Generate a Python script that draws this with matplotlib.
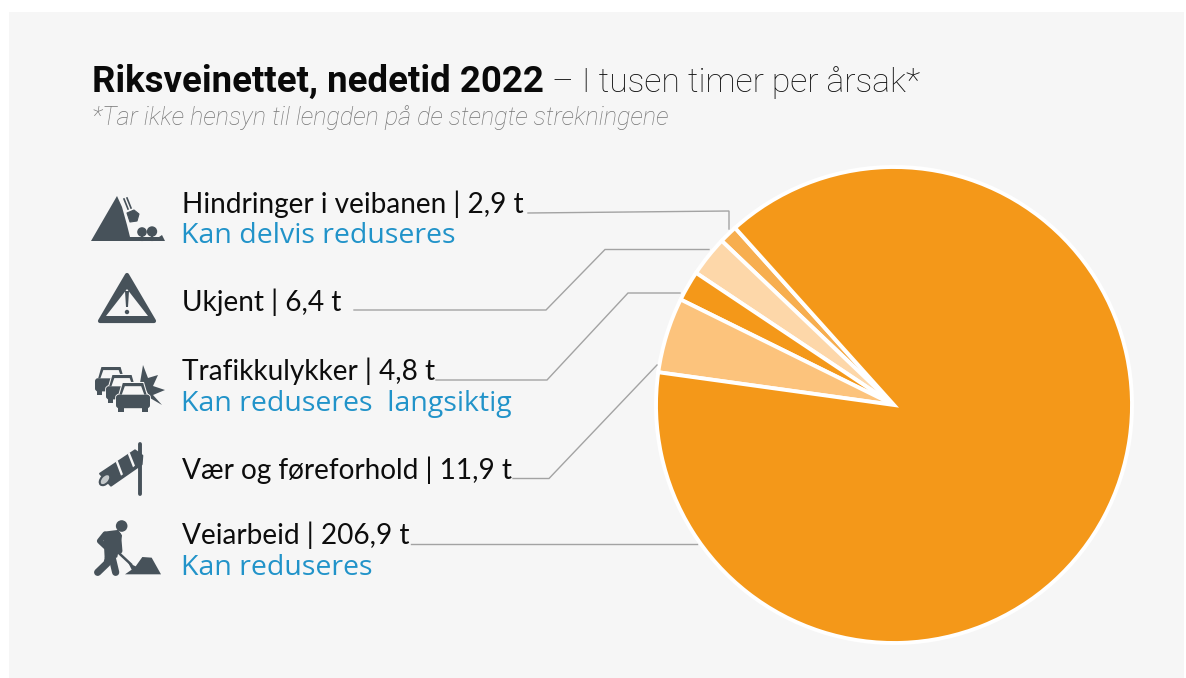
import matplotlib
matplotlib.use("Agg")
import matplotlib.pyplot as plt
from matplotlib.patches import Polygon, Circle, Rectangle, FancyBboxPatch, Ellipse

W, H = 1186, 678
categories = ["Hindringer i veibanen", "Ukjent", "Trafikkulykker", "Vær og føreforhold", "Veiarbeid"]
values = [2.9, 6.4, 4.8, 11.9, 206.9]
value_labels = ["2,9", "6,4", "4,8", "11,9", "206,9"]
notes = ["Kan delvis reduseres", "", "Kan reduseres  langsiktig", "", "Kan reduseres"]
colors = ["#f7ae4f", "#fdd7a9", "#f49819", "#fcc37c", "#f49819"]
title_bold = "Riksveinettet, nedetid 2022"
title_light = "– I tusen timer per årsak*"
subtitle = "*Tar ikke hensyn til lengden på de stengte strekningene"

BG = "#f6f6f6"
ICON = "#47525a"
BLUE = "#2193c9"

fig = plt.figure(figsize=(W / 100, H / 100), dpi=100, facecolor="white")
ov = fig.add_axes([0, 0, 1, 1], zorder=0)
ov.set_xlim(0, W)
ov.set_ylim(H, 0)
ov.axis("off")
ov.add_patch(Rectangle((9, 12), 1175, 667, fc=BG, ec="none"))

# pie
cx, cy, r = 894, 405, 238
pie_ax = fig.add_axes([(cx - r) / W, 1 - (cy + r) / H, 2 * r / W, 2 * r / H], zorder=1)
pie_ax.pie(values, colors=colors, startangle=131.9, counterclock=True, radius=1,
           wedgeprops=dict(edgecolor="white", linewidth=2.8), normalize=True)
pie_ax.set_xlim(-1.0, 1.0)
pie_ax.set_ylim(-1.0, 1.0)
for p in pie_ax.patches:
    p.set_clip_on(False)

# top layer
top = fig.add_axes([0, 0, 1, 1], zorder=2)
top.set_xlim(0, W)
top.set_ylim(H, 0)
top.axis("off")
top.patch.set_alpha(0)

# titles
top.text(92, 92, title_bold, fontfamily="Roboto", fontweight="bold", fontsize=26.4, color="#0a0a0a", va="baseline")
top.text(552, 92, title_light, fontfamily="Roboto", fontweight="light", fontsize=24.2, color="#111111", va="baseline")
top.text(92, 125, subtitle, fontfamily="Roboto", fontstyle="italic", fontweight="light", fontsize=18.1, color="#757575", va="baseline")

# labels
label_y = [213, 311, 380, 479, 544]
note_y = [243, None, 411, None, 575]
for c, v, n, ly, ny in zip(categories, value_labels, notes, label_y, note_y):
    top.text(182, ly, f"{c} | {v} t", fontfamily="Lato", fontsize=20.2, color="#0d0d0d", va="baseline")
    if n:
        top.text(181, ny, n, fontfamily="Open Sans", fontsize=20.5, color=BLUE, va="baseline")

# leader lines
leaders = [
    [(528, 213), (729, 211), (729, 229)],
    [(354, 310), (546, 310), (605, 249.5), (709, 249.5)],
    [(436, 380), (547, 380), (628, 293), (680, 293)],
    [(513, 478.5), (549, 478.5), (657, 365)],
    [(411, 544), (697, 544)],
]
for pts in leaders:
    top.plot([p[0] for p in pts], [p[1] for p in pts], color="#a3a3a3", lw=1.0, solid_joinstyle="miter")


def poly(pts, fc=ICON, **kw):
    top.add_patch(Polygon(pts, closed=True, fc=fc, ec=kw.pop("ec", "none"), **kw))


# icon 1: rock fall
poly([(117, 196), (91, 241), (165, 241), (162, 235), (159, 237), (130, 237), (127, 225), (122, 207)], joinstyle="round")
poly([(127, 213), (134, 210), (139, 214), (137, 221), (130, 222)], joinstyle="round", ec=ICON, lw=0.8)
top.plot([124, 128], [199, 209], color=ICON, lw=1.2)
top.plot([127, 131], [198, 208], color=ICON, lw=1.2)
top.add_patch(Circle((142, 232), 4.8, fc=ICON))
top.add_patch(Circle((152, 231.5), 5.2, fc=ICON))
top.plot([142, 142], [232, 240], color=ICON, lw=1.5)
top.plot([152, 152], [232, 240], color=ICON, lw=1.5)

# icon 2: warning triangle
poly([(127, 275), (100, 321), (154, 321)], ec=ICON, lw=3, joinstyle="round")
poly([(127, 289), (106, 316), (148, 316)], fc=BG)
poly([(125, 291), (129, 291), (128, 307), (126, 307)])
top.add_patch(Circle((127, 312), 2.2, fc=ICON))


# icon 3: cars
def car(x0, y0, w, h, z):
    body_top = y0 + 0.40 * h
    poly([(x0 + 0.10 * w, body_top), (x0 + 0.2 * w, y0), (x0 + 0.8 * w, y0), (x0 + 0.9 * w, body_top)],
         ec=BG, lw=1.5, zorder=z)
    top.add_patch(FancyBboxPatch((x0 + 1, body_top + 1), w - 2, 0.40 * h, boxstyle="round,pad=1,rounding_size=3",
                                 fc=ICON, ec=BG, lw=1.2, zorder=z))
    poly([(x0 + 0.10 * w, body_top), (x0 + 0.2 * w, y0), (x0 + 0.8 * w, y0), (x0 + 0.9 * w, body_top)],
         zorder=z)
    top.add_patch(FancyBboxPatch((x0 + 1, body_top + 1), w - 2, 0.40 * h, boxstyle="round,pad=1,rounding_size=3",
                                 fc=ICON, ec="none", zorder=z))
    poly([(x0 + 0.17 * w, body_top), (x0 + 0.26 * w, y0 + 0.11 * h), (x0 + 0.74 * w, y0 + 0.11 * h), (x0 + 0.83 * w, body_top)],
         fc=BG, zorder=z)
    top.add_patch(Rectangle((x0 + 0.07 * w, y0 + 0.84 * h), 0.16 * w, 0.16 * h, fc=ICON, zorder=z))
    top.add_patch(Rectangle((x0 + 0.77 * w, y0 + 0.84 * h), 0.16 * w, 0.16 * h, fc=ICON, zorder=z))


car(95, 367, 32, 28, 3)
car(106, 375, 32, 28, 4)
car(116, 383, 34, 29, 5)
poly([(143, 365), (148, 378), (158, 375), (153, 386), (165, 390), (153, 395), (162, 405), (150, 398), (147, 392), (140, 383)], zorder=2)


# icon 4: windsock
def c4(x, y):
    return (85 + x / 3, 435 + y / 3)


top.plot(*zip(c4(164, 27), c4(164, 178)), color=ICON, lw=2.8, solid_capstyle="round")
poly([c4(150, 46), c4(172, 62), c4(170, 88), c4(78, 152), c4(45, 116)], joinstyle="round", ec=ICON, lw=1.4)
poly([c4(128, 56), c4(134, 52), c4(150, 92), c4(144, 97)], fc=BG)
poly([c4(92, 80), c4(98, 76), c4(114, 118), c4(108, 122)], fc=BG)
top.add_patch(Ellipse(c4(60, 134), 13, 8, angle=-48, fc="#c4c8ca", ec=ICON, lw=1.5))


# icon 5: worker
def c5(x, y):
    return (85 + x / 3, 435 + y / 3)


top.add_patch(Circle(c5(110, 273), 5.8, fc=ICON))
poly([c5(58, 293), c5(98, 288), c5(108, 302), c5(94, 365), c5(62, 368)], joinstyle="round", ec=ICON, lw=1.5)
top.plot(*zip(c5(60, 298), c5(44, 318), c5(62, 335)), color=ICON, lw=4, solid_capstyle="round", solid_joinstyle="round")
top.plot(*zip(c5(100, 300), c5(104, 348)), color=ICON, lw=4, solid_capstyle="round")
top.plot(*zip(c5(72, 362), c5(66, 385), c5(38, 412)), color=ICON, lw=5.2, solid_capstyle="round", solid_joinstyle="round")
top.plot(*zip(c5(80, 362), c5(92, 412)), color=ICON, lw=5.2, solid_capstyle="round")
top.plot(*zip(c5(95, 348), c5(138, 388)), color=ICON, lw=1.8)
poly([c5(120, 418), c5(140, 404), c5(130, 384), c5(152, 394), c5(172, 366), c5(200, 368), c5(228, 418)], joinstyle="round")

fig.savefig("out.png", dpi=100, facecolor="white")
